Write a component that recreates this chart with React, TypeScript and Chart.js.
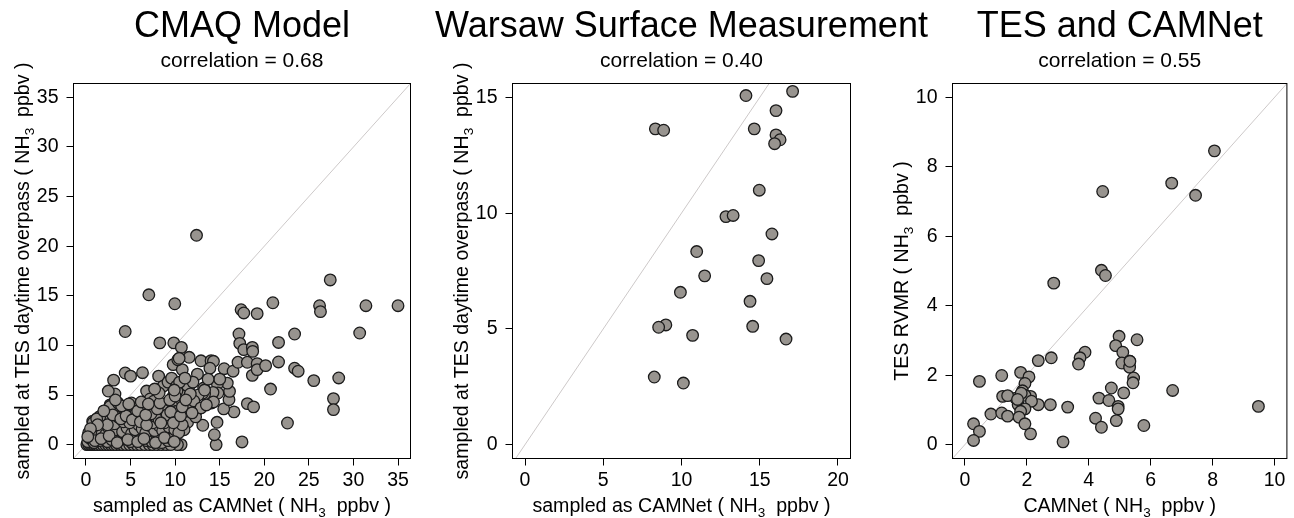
import React, { useEffect, useRef } from "react";
import { Chart, registerables } from "chart.js";

Chart.register(...registerables);

const FONT = "'Liberation Sans', Arial, Helvetica, sans-serif";

// ---------- data ----------
const cmaqPoints: [number, number][] = [
  [12.4, 21.1], [7.05, 15.1], [9.96, 14.2], [4.4, 11.4], [8.28, 10.25], [9.85, 10.25],
  [10.7, 9.8], [11.57, 8.8], [12.9, 8.45], [14.03, 8.46], [14.3, 8.4], [13.9, 7.7],
  [9.78, 8.06], [10.8, 7.56], [10.3, 8.56], [10.45, 8.7], [4.4, 7.22], [5.0, 6.9],
  [6.34, 7.25], [3.1, 6.5], [8.15, 6.9], [12.5, 7.1], [15.5, 7.65], [16.5, 7.4],
  [17.05, 8.3], [17.16, 11.15], [17.25, 10.2], [17.4, 13.6], [17.7, 13.27], [17.7, 9.57],
  [18.1, 8.3], [18.66, 9.8], [18.7, 9.4], [18.66, 6.98], [19.2, 13.2], [19.2, 8.16],
  [19.2, 7.56], [20.15, 7.96], [20.96, 14.3], [21.6, 10.3], [21.6, 8.33], [20.7, 5.6],
  [23.4, 11.15], [23.4, 7.7], [23.8, 7.4], [22.6, 2.18], [25.55, 6.45], [26.2, 14.0],
  [26.3, 13.4], [27.4, 16.6], [28.35, 6.72], [27.76, 4.64], [27.76, 3.53], [30.7, 11.25],
  [31.4, 14.0], [35.0, 14.0], [18.1, 4.13], [18.8, 3.8], [17.5, 0.27], [14.6, 0.0],
  [14.4, 1.0], [14.7, 2.25], [13.1, 1.95], [16.6, 3.3], [15.45, 3.6], [16.04, 4.53],
  [16.1, 5.37], [15.85, 6.2], [14.74, 6.1], [15.0, 6.6], [14.8, 5.2], [14.25, 5.27],
  [14.07, 4.2], [14.3, 4.3], [13.3, 5.1], [13.1, 5.2], [13.2, 5.7], [12.6, 5.0],
  [12.4, 3.4], [11.5, 5.7], [11.66, 4.2], [11.27, 3.0], [11.4, 2.25], [11.0, 1.5],
  [10.67, 0.0], [10.26, 0.0], [9.66, 0.6], [8.9, 1.24], [9.0, 2.96], [8.88, 3.5],
  [7.9, 4.3], [7.46, 4.0], [6.8, 5.4], [6.0, 3.2], [5.2, 4.0], [3.25, 5.1],
  [2.5, 5.4], [2.7, 4.0], [2.3, 3.3], [1.57, 2.7], [0.75, 2.35], [3.36, 3.36],
  [8.66, 5.9], [9.2, 6.3], [9.6, 6.7], [10.15, 5.9], [9.78, 4.87], [9.1, 4.0],
  [10.15, 4.0], [10.5, 4.7], [11.4, 5.9], [13.3, 5.5], [12.1, 4.4], [10.9, 4.9],
  [11.7, 5.1], [7.2, 4.6], [10.2, 5.4], [5.5, 3.8], [6.9, 3.7], [8.1, 3.0],
  [0.1, 0.0], [0.3, 0.0], [0.5, 0.0], [0.7, 0.0], [0.9, 0.0], [1.1, 0.0],
  [1.3, 0.0], [1.6, 0.0], [1.9, 0.0], [2.2, 0.0], [2.5, 0.0], [2.8, 0.0],
  [3.1, 0.0], [3.4, 0.0], [3.8, 0.0], [4.1, 0.0], [4.5, 0.0], [4.9, 0.0],
  [5.3, 0.0], [5.7, 0.0], [6.1, 0.0], [6.6, 0.0], [7.1, 0.0], [7.5, 0.0],
  [8.0, 0.0], [8.5, 0.0], [9.0, 0.0], [9.5, 0.0],
  [0.2, 0.3], [0.5, 0.6], [0.9, 0.2], [1.2, 0.8], [1.5, 0.4], [2.0, 0.7],
  [2.4, 0.3], [2.9, 0.5], [3.3, 0.9], [3.7, 0.4], [4.2, 0.6], [4.4, 0.85],
  [5.0, 0.3], [5.5, 0.7], [6.2, 0.8], [6.8, 0.4], [7.4, 0.3], [8.0, 0.6],
  [8.5, 0.2], [9.2, 0.4], [9.6, 0.6],
  [0.3, 1.2], [0.6, 1.0], [1.0, 1.5], [1.4, 1.9], [1.8, 1.1], [2.2, 1.0],
  [2.6, 1.6], [3.0, 1.2], [3.3, 1.5], [3.8, 2.0], [4.1, 1.3], [4.6, 1.7],
  [5.1, 1.1], [5.5, 1.5], [5.9, 2.0], [6.3, 1.6], [6.7, 1.2], [7.2, 1.9],
  [7.7, 1.4], [8.2, 1.9], [8.6, 1.4], [9.3, 1.8], [9.96, 1.5], [10.4, 1.2],
  [0.8, 2.2], [1.57, 2.85], [2.0, 2.4], [2.8, 2.6], [3.2, 2.1], [3.6, 2.8],
  [4.2, 2.3], [4.9, 2.2], [5.4, 2.8], [6.4, 2.7], [7.0, 2.4], [7.5, 2.2],
  [7.7, 2.9], [8.2, 2.5], [8.8, 2.2], [9.3, 2.7], [10.3, 2.5], [10.8, 2.0],
  [2.7, 3.86], [3.6, 4.2], [4.7, 3.36], [5.1, 4.2], [6.4, 3.4], [7.6, 4.37],
  [8.65, 3.53], [9.1, 3.0], [10.15, 3.36], [5.5, 3.0], [4.3, 3.6],
  [1.0, 0.4], [1.7, 0.6], [2.6, 0.9], [3.5, 0.2], [4.7, 0.5], [5.8, 0.3],
  [6.5, 0.6], [7.8, 0.2], [8.8, 0.7], [9.9, 0.3], [1.2, 2.6], [2.4, 2.0],
  [3.0, 3.0], [3.9, 2.6], [4.5, 2.9], [5.2, 2.5], [5.8, 3.4], [6.1, 2.3],
  [6.8, 2.0], [7.3, 3.1], [8.0, 3.6], [8.4, 2.2], [9.5, 3.3], [9.8, 2.2],
  [10.6, 2.9], [4.0, 3.9], [4.8, 4.1], [6.2, 4.3], [6.7, 3.0], [7.0, 4.1],
  [8.3, 4.2], [9.4, 4.5], [10.0, 4.9], [3.3, 4.5], [2.0, 3.4], [1.3, 2.0],
  [0.5, 1.6], [0.2, 0.8], [10.8, 3.8], [11.2, 4.5], [12.3, 2.8], [12.9, 3.7],
  [13.5, 4.0], [11.9, 3.2], [10.5, 6.3], [9.9, 5.5], [8.2, 5.2], [7.7, 5.6],
  [12.0, 6.3], [13.7, 6.6], [11.1, 6.7],
];

const warsawPoints: [number, number][] = [
  [17.1, 15.26], [14.12, 15.08], [16.04, 14.43], [8.33, 13.64], [8.86, 13.58],
  [14.65, 13.64], [16.04, 13.38], [16.3, 13.17], [15.95, 13.0], [14.97, 10.99],
  [12.84, 9.85], [13.3, 9.9], [15.78, 9.1], [10.97, 8.34], [14.93, 7.95],
  [11.48, 7.29], [15.46, 7.17], [9.93, 6.58], [14.38, 6.19], [9.0, 5.17],
  [8.54, 5.07], [14.55, 5.11], [10.71, 4.72], [16.68, 4.56], [8.26, 2.92],
  [10.12, 2.66],
];

const tesPoints: [number, number][] = [
  [8.06, 8.46], [6.68, 7.53], [7.45, 7.18], [4.45, 7.29], [4.41, 5.02], [4.54, 4.87],
  [2.87, 4.65], [4.98, 3.12], [5.56, 3.02], [4.87, 2.85], [5.1, 2.66], [5.32, 2.4],
  [5.07, 2.35], [5.32, 2.23], [5.45, 1.92], [5.43, 1.78], [3.88, 2.66], [3.72, 2.5],
  [3.67, 2.32], [2.79, 2.5], [2.37, 2.42], [1.8, 2.08], [2.07, 1.95], [1.19, 1.99],
  [0.47, 1.82], [1.94, 1.76], [1.86, 1.55], [1.64, 1.34], [2.12, 1.39], [1.94, 1.42],
  [1.22, 1.39], [1.38, 1.41], [1.72, 1.15], [2.37, 1.15], [2.15, 1.25], [2.76, 1.15],
  [3.32, 1.08], [1.94, 1.03], [1.8, 0.96], [1.75, 0.79], [0.84, 0.88], [1.19, 0.91],
  [1.38, 0.82], [1.94, 0.6], [2.12, 0.31], [0.28, 0.6], [0.47, 0.38], [0.28, 0.12],
  [3.17, 0.08], [4.33, 1.34], [4.73, 1.63], [4.65, 1.27], [5.13, 1.49], [4.95, 1.1],
  [4.95, 1.03], [4.22, 0.76], [4.41, 0.5], [4.89, 0.69], [5.78, 0.55], [6.71, 1.56],
  [9.48, 1.1], [1.82, 1.48], [1.7, 1.3], [5.33, 2.4],
];

const cmaqTicks = [0, 5, 10, 15, 20, 25, 30, 35];
const warsawXTicks = [0, 5, 10, 15, 20];
const warsawYTicks = [0, 5, 10, 15];
const tesTicks = [0, 2, 4, 6, 8, 10];

const panelTitles = ["CMAQ Model", "Warsaw Surface Measurement", "TES and CAMNet"];
const correlations = ["correlation = 0.68", "correlation = 0.40", "correlation = 0.55"];
const xTitles: [string, string, string][] = [
  ["sampled as CAMNet ( NH", "3", "  ppbv )"],
  ["sampled as CAMNet ( NH", "3", "  ppbv )"],
  ["CAMNet ( NH", "3", "  ppbv )"],
];
const yTitles: [string, string, string][] = [
  ["sampled at TES daytime overpass ( NH", "3", "  ppbv )"],
  ["sampled at TES daytime overpass ( NH", "3", "  ppbv )"],
  ["TES RVMR ( NH", "3", "  ppbv )"],
];
const oneToOne = [-50, 100];

// ---------- layout ----------
const W = 1294;
const H = 518;
const BOX_TOP = 83.5;
const BOX_BOTTOM = 458.5;

type Panel = {
  boxLeft: number;
  boxRight: number;
  xMin: number; xMax: number; yMin: number; yMax: number;
  xTicks: number[]; yTicks: number[];
  points: [number, number][];
  title: string; corr: string;
  xTitle: [string, string, string]; yTitle: [string, string, string];
};

const panels: Panel[] = [
  {
    boxLeft: 73.5, boxRight: 410.5,
    xMin: -1.4, xMax: 36.4, yMin: -1.4, yMax: 36.4,
    xTicks: cmaqTicks, yTicks: cmaqTicks, points: cmaqPoints,
    title: panelTitles[0], corr: correlations[0], xTitle: xTitles[0], yTitle: yTitles[0],
  },
  {
    boxLeft: 512.5, boxRight: 850.5,
    xMin: -0.8, xMax: 20.8, yMin: -0.6, yMax: 15.6,
    xTicks: warsawXTicks, yTicks: warsawYTicks, points: warsawPoints,
    title: panelTitles[1], corr: correlations[1], xTitle: xTitles[1], yTitle: yTitles[1],
  },
  {
    boxLeft: 952.5, boxRight: 1289.5,
    xMin: -0.4, xMax: 10.4, yMin: -0.4, yMax: 10.4,
    xTicks: tesTicks, yTicks: tesTicks, points: tesPoints,
    title: panelTitles[2], corr: correlations[2], xTitle: xTitles[2], yTitle: yTitles[2],
  },
];

function drawRich(ctx: CanvasRenderingContext2D, parts: [string, string, string], cx: number, y: number) {
  const big = `19.6px ${FONT}`;
  const small = `13.5px ${FONT}`;
  ctx.font = big;
  const w1 = ctx.measureText(parts[0]).width;
  const w3 = ctx.measureText(parts[2]).width;
  ctx.font = small;
  const w2 = ctx.measureText(parts[1]).width;
  let x = cx - (w1 + w2 + w3) / 2;
  ctx.textAlign = "left";
  ctx.textBaseline = "alphabetic";
  ctx.font = big;
  ctx.fillText(parts[0], x, y);
  x += w1;
  ctx.font = small;
  ctx.fillText(parts[1], x, y + 5);
  x += w2;
  ctx.font = big;
  ctx.fillText(parts[2], x, y);
}

function makeTextPlugin(p: Panel) {
  return {
    id: "panelText",
    afterDraw(chart: any) {
      const ctx: CanvasRenderingContext2D = chart.ctx;
      const a = chart.chartArea;
      ctx.save();
      ctx.strokeStyle = "#000";
      ctx.lineWidth = 1;
      ctx.strokeRect(a.left, a.top, a.right - a.left, a.bottom - a.top);
      const cx = (a.left + a.right) / 2;
      ctx.fillStyle = "#000";
      ctx.textAlign = "center";
      ctx.textBaseline = "alphabetic";
      ctx.font = `36px ${FONT}`;
      ctx.fillText(p.title, cx, 37);
      ctx.font = `21px ${FONT}`;
      ctx.fillText(p.corr, cx, 66.5);
      drawRich(ctx, p.xTitle, cx, 511.5);
      ctx.translate(a.left - 45, (a.top + a.bottom) / 2);
      ctx.rotate(-Math.PI / 2);
      drawRich(ctx, p.yTitle, 0, 0);
      ctx.restore();
    },
  };
}

function axisOptions(min: number, max: number, ticks: number[], isX: boolean, size: number) {
  return {
    type: "linear",
    position: isX ? "bottom" : "left",
    min,
    max,
    afterBuildTicks: (scale: any) => {
      scale.ticks = ticks.map((v) => ({ value: v }));
    },
    afterFit: (scale: any) => {
      if (isX) scale.height = size;
      else scale.width = size;
    },
    grid: {
      drawOnChartArea: false,
      drawTicks: true,
      tickLength: 7,
      color: "#000",
      lineWidth: 1,
    },
    border: { display: false },
    ticks: {
      color: "#000",
      font: { family: FONT, size: 19.5 },
      padding: isX ? 3 : 8,
      maxRotation: 0,
      minRotation: 0,
      autoSkip: false,
      callback: (v: any) => String(v),
    },
  };
}

function PanelChart({ p }: { p: Panel }) {
  const ref = useRef<HTMLCanvasElement>(null);
  useEffect(() => {
    if (!ref.current) return;
    const chart = new Chart(ref.current, {
      type: "scatter",
      data: {
        datasets: [
          {
            type: "scatter",
            data: p.points.map(([x, y]) => ({ x, y })),
            pointRadius: 5.8,
            pointBorderWidth: 1.3,
            pointBackgroundColor: "rgb(152,148,143)",
            pointBorderColor: "#1c1c1c",
            backgroundColor: "rgb(152,148,143)",
            borderColor: "#1c1c1c",
            order: 1,
          } as any,
          {
            type: "line",
            data: oneToOne.map((v) => ({ x: v, y: v })),
            borderColor: "#cdc9c9",
            borderWidth: 1,
            pointRadius: 0,
            showLine: true,
            fill: false,
            order: 2,
          } as any,
        ],
      },
      options: {
        responsive: false,
        maintainAspectRatio: false,
        animation: false,
        events: [],
        layout: {
          padding: { left: 0, top: BOX_TOP, right: W - p.boxRight, bottom: 0 },
        },
        plugins: {
          legend: { display: false },
          tooltip: { enabled: false },
          title: { display: false },
        },
        scales: {
          x: axisOptions(p.xMin, p.xMax, p.xTicks, true, H - BOX_BOTTOM),
          y: axisOptions(p.yMin, p.yMax, p.yTicks, false, p.boxLeft),
        } as any,
      },
      plugins: [makeTextPlugin(p)],
    } as any);
    return () => chart.destroy();
  }, [p]);
  return (
    <canvas
      ref={ref}
      width={W}
      height={H}
      style={{ position: "absolute", left: 0, top: 0, width: W, height: H }}
    />
  );
}

export default function App() {
  return (
    <div
      style={{
        position: "fixed",
        left: 0,
        top: 0,
        width: W,
        height: H,
        background: "#fff",
        overflow: "hidden",
      }}
    >
      {panels.map((p, i) => (
        <PanelChart key={i} p={p} />
      ))}
    </div>
  );
}
